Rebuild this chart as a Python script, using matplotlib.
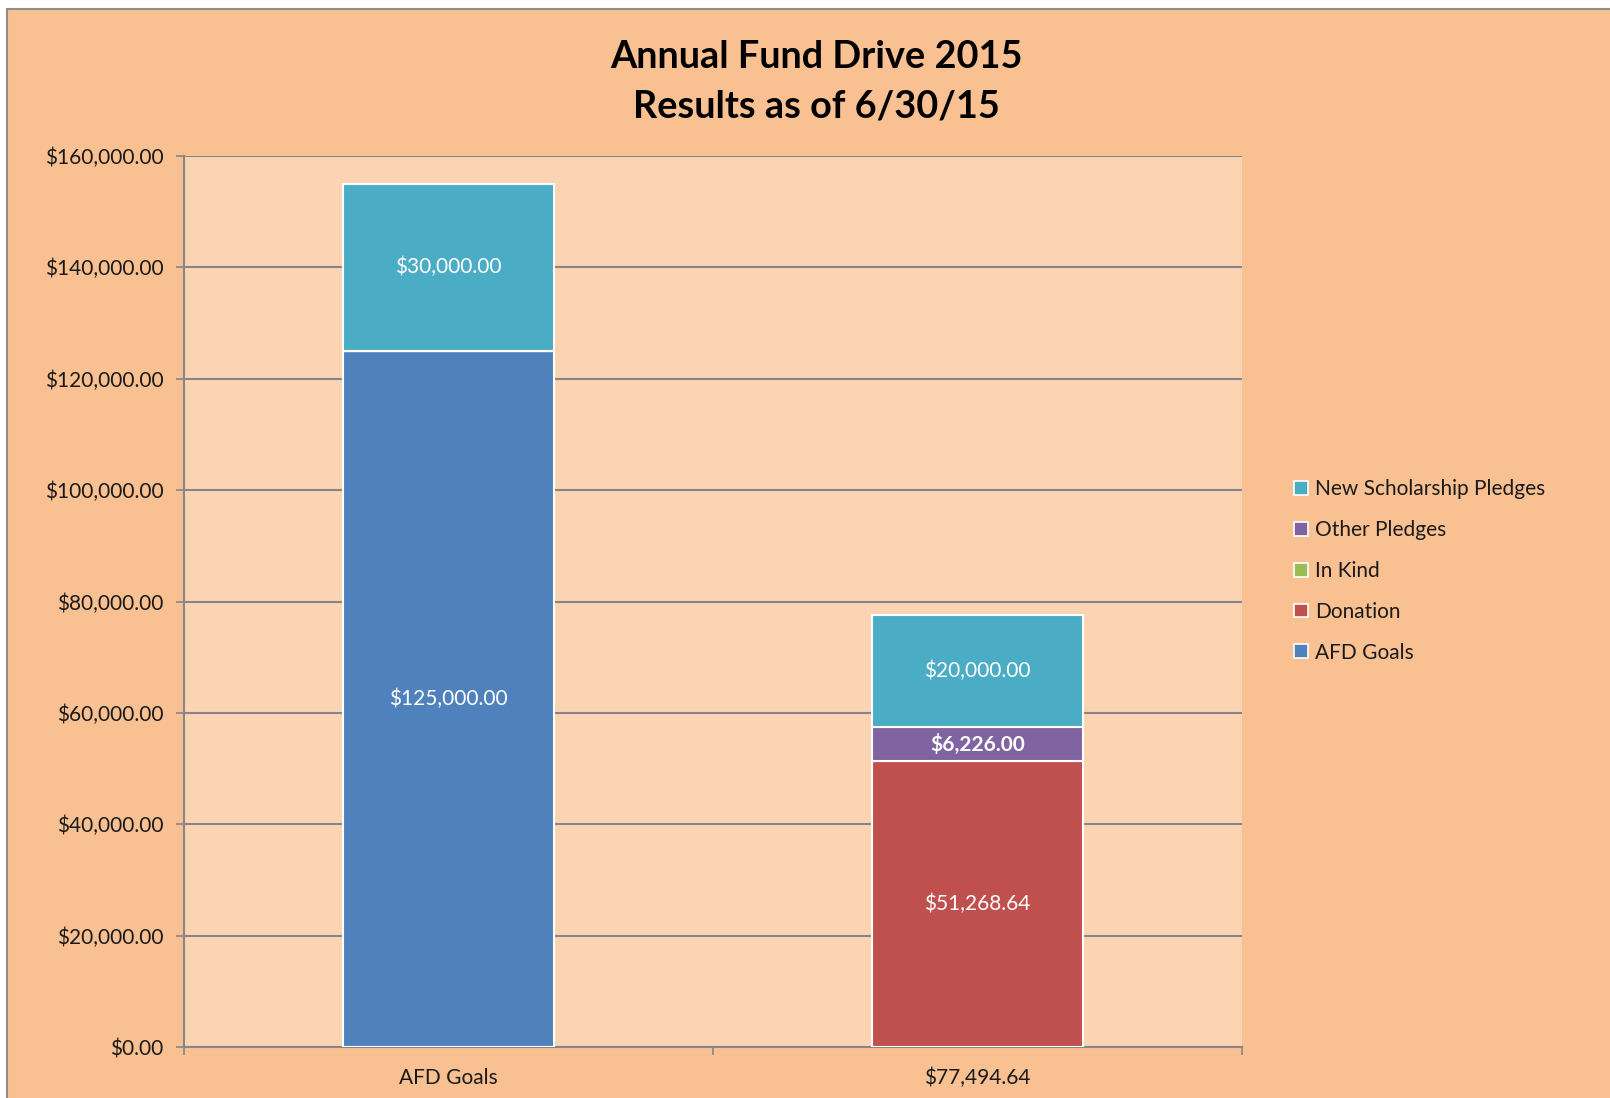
import matplotlib
matplotlib.use("Agg")
import matplotlib.pyplot as plt
from matplotlib.patches import Rectangle, Patch
import numpy as np

plt.rcParams['font.family'] = ['Lato', 'DejaVu Sans']

categories = ["AFD Goals", "$77,494.64"]
series_names = ["AFD Goals", "Donation", "In Kind", "Other Pledges", "New Scholarship Pledges"]
afd_goals = [125000.00, 0.0]
donation = [0.0, 51268.64]
in_kind = [0.0, 0.0]
other_pledges = [0.0, 6226.00]
new_scholarship = [30000.00, 20000.00]
colors = ["#4F81BD", "#C0504D", "#9BBB59", "#8064A2", "#4BACC6"]
bold_labels = {"Other Pledges"}

yticks = [0, 20000, 40000, 60000, 80000, 100000, 120000, 140000, 160000]

W, H = 1610, 1098
fig = plt.figure(figsize=(W / 100, H / 100), dpi=100)
fig.patch.set_facecolor("white")
fig.patches.append(Rectangle((7 / W, -0.1), 1.2, (H - 9) / H + 0.1,
                             transform=fig.transFigure, facecolor="#F9C091",
                             edgecolor="#8C8C8C", linewidth=1.5, zorder=-5))

ax = fig.add_axes([184 / W, 51 / H, (1242 - 184) / W, (1047 - 156) / H])
ax.set_zorder(2)
ax.set_facecolor("#FBD4B4")

x = np.arange(len(categories))
all_series = [afd_goals, donation, in_kind, other_pledges, new_scholarship]
bottom = np.zeros(len(categories))
for name, vals, col in zip(series_names, all_series, colors):
    vals = np.array(vals)
    ax.bar(x, vals, width=0.4, bottom=bottom, color=col, edgecolor="white",
           linewidth=1.5, zorder=3)
    for xi, v, b in zip(x, vals, bottom):
        if v > 0:
            ax.text(xi, b + v / 2, f"${v:,.2f}", ha="center", va="center",
                    color="white", fontsize=15,
                    fontweight="bold" if name in bold_labels else "normal",
                    zorder=4)
    bottom = bottom + vals

ax.set_xlim(-0.5, 1.5)
ax.set_ylim(0, 160000)
ax.set_yticks(yticks)
ax.set_yticklabels([f"${v:,.2f}" for v in yticks], fontsize=15, color="#1a1a1a")
ax.set_xticks(x)
ax.set_xticklabels(categories, fontsize=15, color="#1a1a1a")
ax.set_xticks([-0.5, 0.5, 1.5], minor=True)
ax.tick_params(axis="x", which="major", length=0, pad=15)
ax.tick_params(axis="x", which="minor", length=6, width=1.2, color="#868686", direction="out")
ax.tick_params(axis="y", length=6, width=1.2, color="#868686", pad=9, direction="out")
ax.grid(axis="y", color="#868686", linewidth=1.5, zorder=1)
ax.set_axisbelow(True)
for s in ["top", "right"]:
    ax.spines[s].set_visible(False)
for s in ["left", "bottom"]:
    ax.spines[s].set_color("#868686")
    ax.spines[s].set_linewidth(1.5)

fig.text(816 / W, 1 - 57 / H, "Annual Fund Drive 2015", ha="center", va="center",
         fontsize=27.3, fontweight="bold", color="black")
fig.text(816 / W, 1 - 107 / H, "Results as of 6/30/15", ha="center", va="center",
         fontsize=27.3, fontweight="bold", color="black")

handles = [Patch(facecolor=c, edgecolor="white", linewidth=1.2) for c in colors][::-1]
labels = series_names[::-1]
fig.legend(handles, labels, loc="center left", bbox_to_anchor=(1294 / W, 1 - 571 / H),
           frameon=False, fontsize=15, handlelength=0.65, handleheight=0.65,
           handletextpad=0.35, labelspacing=1.0, borderpad=0, borderaxespad=0,
           labelcolor="#1a1a1a")

fig.savefig("out.png", dpi=100, facecolor=fig.get_facecolor())
